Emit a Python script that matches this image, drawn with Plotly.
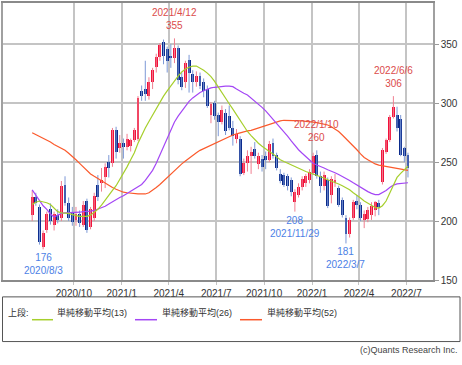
import pandas as pd
import plotly.graph_objects as go

# ---------------- data (weekly candles) ----------------
start_week = "2020-07-13"
n_weeks = 104
dates = pd.date_range(start_week, periods=n_weeks, freq="7D")

opens = [205, 220, 212, 178, 192, 210, 197, 205, 203, 231, 215, 207, 201, 206, 197, 217, 195,
         203, 231, 232, 237, 250, 249, 277, 262, 266, 263, 264, 269, 270, 310, 312, 306, 318,
         331, 339, 352, 346, 340, 338, 347, 322, 318, 337, 325, 318, 323, 318, 312, 290, 300,
         290, 284, 292, 289, 279, 270, 270, 241, 249, 255, 261, 248, 253, 255, 252, 266, 256,
         240, 239, 238, 235, 216, 222, 229, 232, 235, 241, 256, 238, 230, 235, 222, 232, 228,
         218, 203, 189, 203, 217, 214, 201, 202, 205, 209, 215, 233, 259, 269, 288, 290, 287,
         262, 256]
highs = [226, 224, 214, 192, 208, 215, 208, 210, 234, 238, 220, 212, 212, 209, 217, 219, 212,
         224, 239, 245, 249, 256, 279, 280, 273, 270, 274, 270, 279, 306, 315, 336, 322, 330,
         342, 351, 354, 348, 350, 355, 349, 326, 336, 341, 328, 327, 326, 321, 315, 301, 302,
         292, 298, 295, 298, 285, 278, 272, 253, 260, 263, 267, 258, 256, 259, 268, 270, 258,
         244, 241, 240, 237, 227, 232, 238, 240, 244, 258, 260, 242, 242, 237, 238, 240, 230,
         220, 205, 203, 218, 222, 216, 209, 212, 216, 217, 218, 262, 270, 290, 306, 297, 290,
         263, 258]
lows = [200, 213, 180, 176, 190, 197, 192, 198, 200, 213, 200, 196, 196, 195, 195, 190, 193,
        200, 217, 225, 228, 237, 246, 253, 258, 253, 260, 259, 267, 268, 302, 302, 303, 312,
        326, 336, 333, 326, 330, 334, 316, 311, 313, 309, 309, 314, 312, 305, 296, 283, 286,
        272, 282, 273, 277, 264, 266, 238, 239, 242, 240, 253, 244, 242, 244, 250, 253, 243,
        232, 229, 226, 221, 208, 220, 226, 229, 232, 239, 236, 224, 226, 211, 215, 229, 212,
        203, 181, 186, 201, 210, 200, 194, 199, 201, 204, 205, 231, 257, 267, 287, 276, 255,
        250, 237]
closes = [220, 215, 182, 190, 206, 200, 206, 201, 230, 215, 203, 199, 206, 198, 214, 192, 210,
          221, 220, 235, 246, 245, 277, 259, 266, 263, 270, 269, 277, 304, 306, 308, 318, 328,
          339, 349, 340, 336, 338, 347, 320, 314, 334, 326, 318, 323, 315, 310, 298, 299, 289,
          284, 294, 276, 279, 272, 274, 240, 249, 255, 259, 255, 255, 246, 252, 265, 255, 245,
          234, 231, 230, 225, 225, 229, 236, 238, 242, 255, 238, 230, 239, 213, 236, 235, 214,
          205, 189, 201, 216, 214, 203, 206, 209, 213, 216, 212, 260, 269, 288, 297, 279, 256,
          255, 245]

ma13 = [214, 216, 217, 216.5, 215.5, 214, 211, 208, 207, 207, 206.5, 205.5, 204.5, 204, 204,
        204, 205, 207.5, 210, 213.5, 218, 222, 226, 230, 235, 240.5, 246, 252, 258, 266, 273,
        279, 284.5, 290, 295.5, 301, 306, 310.5, 315, 319, 323, 326.5, 329, 330.5, 331.5, 331.5,
        330, 328, 325.5, 322.5, 318.5, 313.5, 309, 304, 299.5, 295, 290, 285, 280, 276, 272.5,
        269, 266, 263.5, 261, 259, 257, 254.5, 252, 250.5, 249, 247.5, 246, 244.5, 243, 242,
        241, 240, 239, 238, 236.5, 235, 234, 233, 231.5, 230, 228.5, 226.5, 224, 222, 219.5,
        217, 215, 213, 211.5, 211, 213, 217, 224, 231.5, 237, 240.5, 243.5, 246.5]
ma26 = [226.5, 222, 217, 213, 210, 206, 203.5, 205, 206.5, 207, 207, 207, 207.5, 207.5, 208,
        208, 208.5, 209, 210, 211, 212.5, 214.5, 216.5, 218.5, 220, 221.5, 223.5, 225.5, 227.5,
        229.5, 231, 234.5, 238.5, 243, 249, 256, 263, 270, 278, 284, 289, 293.5, 298, 301.5,
        304.5, 307, 309, 310.5, 312, 313, 313.5, 314, 314.5, 314.5, 314.5, 314, 312, 310, 308.5,
        307, 304.5, 302, 299.5, 296.5, 293.5, 290, 286.5, 283, 279, 276, 272, 268, 264, 260.5,
        257.5, 254.5, 251.5, 249, 247.5, 246.5, 245, 243.5, 242.5, 241, 239.5, 238, 236.5,
        234.5, 232.5, 230.5, 228.5, 226.5, 225, 223.5, 222.5, 222.5, 224, 226, 228.5, 230.5,
        231.5, 232, 232, 232.5]
ma52 = [275, 273.5, 272, 270, 268.5, 267, 265, 263.5, 262, 260, 257.5, 255, 252, 249, 246,
        243, 240, 238, 236, 234, 232, 230, 228.5, 227, 225.5, 224.5, 224, 223.5, 223, 223, 223,
        223, 224, 226, 228.5, 231, 234, 237, 240, 243, 246, 248.5, 251, 253.5, 256, 258, 260,
        261.5, 263, 264.5, 265.5, 267, 268.5, 270, 271.5, 273, 274, 275, 276, 276.5, 277, 278,
        279, 280.5, 281.5, 282.5, 283.5, 284.5, 285, 285.5, 285.5, 285.5, 285.5, 285, 285,
        284.5, 284.5, 284, 283.5, 283, 282.5, 281.5, 280, 278, 276, 273, 270, 267, 264, 260.5,
        257, 254, 252, 250, 248.5, 247.5, 247, 246.5, 246, 245.5, 245, 244.5, 244, 243]

tick_dates = ["2020-10-01", "2021-01-01", "2021-04-01", "2021-07-01",
              "2021-10-01", "2022-01-01", "2022-04-01", "2022-07-01"]
tick_labels = ["2020/10", "2021/1", "2021/4", "2021/7",
               "2021/10", "2022/1", "2022/4", "2022/7"]
y_ticks = [150, 200, 250, 300, 350]

# labelled extremes: (week index, date text, value)
highs_marked = [(39, "2021/4/12", 355), (78, "2022/1/10", 260), (99, "2022/6/6", 306)]
lows_marked = [(3, "2020/8/3", 176), (72, "2021/11/29", 208), (86, "2022/3/7", 181)]

legend_names = ["単純移動平均(13)", "単純移動平均(26)", "単純移動平均(52)"]

# ---------------- styling ----------------
UP_BODY, UP_WICK = "#f2103a", "#f07f90"
DN_BODY, DN_WICK = "#0b2b8c", "#7c98d6"
C13, C26, C52 = "#a6cf2c", "#a447f5", "#fb5a2c"
LBL_RED, LBL_BLUE = "#db4b4b", "#4d7fe6"
FONT = "Arial, Liberation Sans, Noto Sans CJK JP, sans-serif"

fig = go.Figure()

# wicks
for up, col in [(True, UP_WICK), (False, DN_WICK)]:
    wx, wy = [], []
    for d, o, h, l, c in zip(dates, opens, highs, lows, closes):
        if (c >= o) == up:
            wx += [d, d, None]
            wy += [l, h, None]
    fig.add_trace(go.Scatter(x=wx, y=wy, mode="lines", line=dict(color=col, width=1),
                             hoverinfo="skip", showlegend=False))

# bodies
base = [min(o, c) for o, c in zip(opens, closes)]
height = [max(abs(c - o), 0.9) for o, c in zip(opens, closes)]
colors = [UP_BODY if c >= o else DN_BODY for o, c in zip(opens, closes)]
fig.add_trace(go.Bar(x=dates, y=height, base=base, marker=dict(color=colors, line=dict(width=0)),
                     width=5.6 * 86400000, showlegend=False))

# moving averages
for vals, col in [(ma52, C52), (ma26, C26), (ma13, C13)]:
    fig.add_trace(go.Scatter(x=dates, y=vals, mode="lines", line=dict(color=col, width=1.2),
                             showlegend=False, hoverinfo="skip"))

# extreme labels
for i, dtxt, v in highs_marked:
    fig.add_annotation(x=dates[i], y=v, text=f"{dtxt}<br>{v}", showarrow=False,
                       yanchor="bottom", yshift=5, font=dict(size=10, color=LBL_RED, family=FONT))
for i, dtxt, v in lows_marked:
    fig.add_annotation(x=dates[i], y=v, text=f"{v}<br>{dtxt}", showarrow=False,
                       yanchor="top", yshift=-1, font=dict(size=10, color=LBL_BLUE, family=FONT))

# ---------------- manual legend box ----------------
def px_x(p):
    return (p - 3) / 430.0

def px_y(p):
    return (280 - p) / 279.0

fig.add_shape(type="rect", xref="paper", yref="paper", x0=px_x(2.5), x1=px_x(460),
              y0=px_y(342), y1=px_y(297), line=dict(color="#555555", width=1))
ly = px_y(320)
fig.add_annotation(xref="paper", yref="paper", x=px_x(6), y=ly, text="上段:", showarrow=False,
                   xanchor="left", font=dict(size=9, color="#333333", family=FONT))
for (x0, x1, xt), col, name in zip([(32, 53, 55), (135, 157, 160), (240, 262, 265)],
                                   [C13, C26, C52], legend_names):
    fig.add_shape(type="line", xref="paper", yref="paper", x0=px_x(x0), x1=px_x(x1), y0=ly, y1=ly,
                  line=dict(color=col, width=1.5))
    fig.add_annotation(xref="paper", yref="paper", x=px_x(xt), y=ly, text=name, showarrow=False,
                       xanchor="left", font=dict(size=9, color="#333333", family=FONT))

fig.add_annotation(xref="paper", yref="paper", x=px_x(460), y=px_y(358),
                   text="(c)Quants Research Inc.", showarrow=False, xanchor="right",
                   font=dict(size=9, color="#444444", family=FONT))

fig.update_layout(
    width=462, height=365,
    margin=dict(l=3, r=29, t=1, b=85),
    paper_bgcolor="white", plot_bgcolor="white",
    bargap=0, showlegend=False,
    font=dict(family=FONT, size=10, color="#333333"),
    xaxis=dict(type="date", range=["2020-05-18", "2022-08-21"], tickvals=tick_dates,
               ticktext=tick_labels, showgrid=True, gridcolor="#c4c4c4", gridwidth=1.5,
               ticks="outside", ticklen=3, tickcolor="#c4c4c4", showline=True,
               linecolor="#8a8a8a", linewidth=1.5, mirror=True, zeroline=False,
               tickfont=dict(size=10, color="#333333"), fixedrange=True),
    yaxis=dict(range=[150, 385], side="right", tickvals=y_ticks, showgrid=True,
               gridcolor="#c4c4c4", gridwidth=1.5, ticks="outside", ticklen=4,
               tickcolor="#9a9a9a", showline=True, linecolor="#a0a0a0", linewidth=1.5,
               mirror=True, zeroline=False, tickfont=dict(size=10, color="#333333"),
               fixedrange=True),
)

fig.write_html("out.html", config={"displayModeBar": False},
               post_script="document.body.style.margin='0';document.body.style.padding='0';")
